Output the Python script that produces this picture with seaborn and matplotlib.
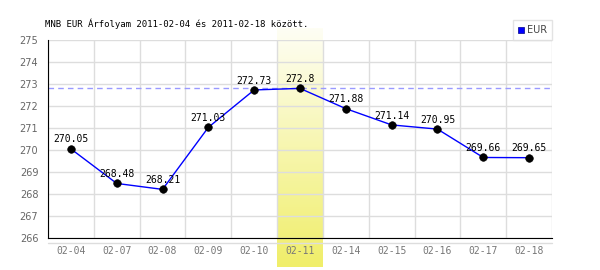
import matplotlib
matplotlib.use("Agg")
import matplotlib.pyplot as plt
import seaborn as sns
import numpy as np
import pandas as pd
from matplotlib.lines import Line2D
from matplotlib.colors import LinearSegmentedColormap

dates = ["02-04", "02-07", "02-08", "02-09", "02-10", "02-11", "02-14", "02-15", "02-16", "02-17", "02-18"]
values = [270.05, 268.48, 268.21, 271.03, 272.73, 272.8, 271.88, 271.14, 270.95, 269.66, 269.65]
labels = ["270.05", "268.48", "268.21", "271.03", "272.73", "272.8", "271.88", "271.14", "270.95", "269.66", "269.65"]
yticks = [266, 267, 268, 269, 270, 271, 272, 273, 274, 275]
title = "MNB EUR Árfolyam 2011-02-04 és 2011-02-18 között."
highlight = "02-11"
ref_value = 272.8
series_name = "EUR"

sns.set_style("white")
plt.rcParams['font.family'] = ['DejaVu Sans Mono']

df = pd.DataFrame({"x": np.arange(len(dates)), "v": values})

fig = plt.figure(figsize=(6, 2.7), dpi=100)
ax = fig.add_axes([48/600, (270-238)/270, 504/600, 198/270])

# highlight gradient band
hi = dates.index(highlight)
grad = np.linspace(0, 1, 100).reshape(-1, 1)
cmap = LinearSegmentedColormap.from_list("yl", ["#fefef4", "#f0ee6a"])
ax.imshow(grad, extent=(hi-0.5, hi+0.5, 264.68, 275.5), aspect='auto', cmap=cmap,
          origin='upper', clip_on=False, zorder=0)

# grid
for y in yticks:
    ax.axhline(y, color="#dddddd", lw=1, zorder=1)
for k in range(len(dates)+1):
    ax.axvline(k-0.5, color="#dddddd", lw=1, zorder=1)
# faint line under the axis
ax.plot([-0.5, len(dates)-0.5], [265.77, 265.77], color="#dddddd", lw=1, clip_on=False, zorder=1)

ax.axhline(ref_value, color="#9999ff", lw=1, ls=(0, (4, 3)), zorder=2)

sns.lineplot(data=df, x="x", y="v", color="#0000ff", lw=1, ax=ax, zorder=3, legend=False)
sns.scatterplot(data=df, x="x", y="v", color="black", s=30, ax=ax, zorder=4, edgecolor="black", legend=False)

for i, (v, t) in enumerate(zip(values, labels)):
    ax.text(i, v + 0.2, t, ha="center", va="bottom", fontsize=7, color="black", zorder=5)

ax.set_xlim(-0.5, len(dates)-0.5)
ax.set_ylim(266, 275)
ax.set_xticks(range(len(dates)))
ax.set_xticklabels(dates, fontsize=7, color="#777777")
ax.set_yticks(yticks)
ax.set_yticklabels([str(y) for y in yticks], fontsize=7, color="#666666",
                   family=["DejaVu Sans"])
ax.tick_params(axis="both", length=0, pad=6)
ax.tick_params(axis="y", pad=7)
ax.set_xlabel("")
ax.set_ylabel("")
for s in ["top", "right"]:
    ax.spines[s].set_visible(False)
ax.spines["left"].set_color("black")
ax.spines["bottom"].set_color("black")

handle = Line2D([], [], marker="s", color="#0000ff", ls="none", markersize=5,
                markeredgecolor="#000088", markeredgewidth=0.5)
leg = ax.legend([handle], [series_name], loc="lower right", bbox_to_anchor=(1.0, 1.0),
                fontsize=7, frameon=True, handlelength=0.6, handletextpad=0.3,
                borderpad=0.5, fancybox=False, borderaxespad=0)
leg.get_frame().set_edgecolor("#dddddd")
leg.get_frame().set_linewidth(1)
for t in leg.get_texts():
    t.set_color("#444444")
    t.set_family(["DejaVu Sans"])

fig.text(45/600, 1 - 24/270, title, fontsize=6.5, ha="left", va="center", color="black")

fig.savefig("out.png", dpi=100, facecolor="white")
